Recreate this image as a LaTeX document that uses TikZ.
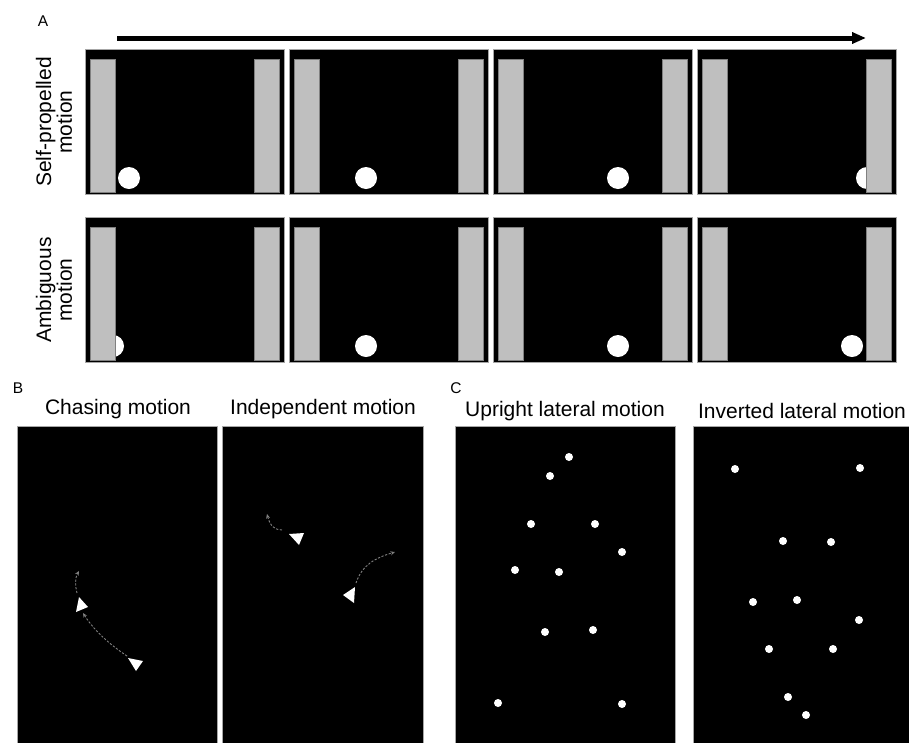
\documentclass[tikz,border=0pt]{standalone}
\usepackage{fontspec}
\setmainfont{Liberation Sans}
\usetikzlibrary{arrows.meta}
\begin{document}
\begin{tikzpicture}[x=1pt,y=-1pt,
  screen/.style={fill=black,draw=gray!70,line width=0.6pt},
  post/.style={fill=gray!50,draw=gray,line width=0.6pt},
  ball/.style={fill=white},
  bdot/.style={fill=white},
  agent/.style={fill=white},
  title/.style={font=\fontsize{21}{24}\selectfont,inner sep=0pt},
  panel/.style={font=\fontsize{15.5}{18}\selectfont,inner sep=0pt},
  rowlab/.style={font=\fontsize{21}{18}\selectfont,inner sep=0pt,rotate=90,align=center},
  trail/.style={draw=gray,dash pattern=on 2.2pt off 1.6pt,line width=0.9pt,-{Stealth[length=4.5pt,width=4pt]}}]
\useasboundingbox (0,0) rectangle (909,742);
\fill[white] (0,0) rectangle (909,742);

% ---------- Panel A ----------
\node[panel] (labA) at (43,21) {A};
\coordinate (arrS) at (117,38);
\coordinate (arrE) at (866,38);
\draw[line width=5pt,-{Triangle[length=14pt,width=11pt]}] (arrS) -- (arrE);

\node[rowlab] (lab1) at (54,122) {Self-propelled\\motion};
\node[rowlab] (lab2) at (54,290) {Ambiguous\\motion};

% row 1
\foreach \L/\bx in {85/129, 289/366, 493/618, 697/867}{
  \draw[screen] (\L,49) rectangle ++(199,145);
  \fill[ball] (\bx,178) circle (11);
  \draw[post] (\L+5,59) rectangle ++(25,133);
  \draw[post] (\L+169,59) rectangle ++(25,133);
}
% row 2
\foreach \L/\bx in {85/113, 289/366, 493/618, 697/852}{
  \draw[screen] (\L,217) rectangle ++(199,145);
  \fill[ball] (\bx,346) circle (11);
  \draw[post] (\L+5,227) rectangle ++(25,133);
  \draw[post] (\L+169,227) rectangle ++(25,133);
}

% ---------- Panel B ----------
\node[panel] (labB) at (18,388) {B};
\node[title] (tB1) at (118,409) {Chasing motion};
\node[title] (tB2) at (323,409) {Independent motion};
\draw[screen] (17,426) rectangle (217,745);
\draw[screen] (222,426) rectangle (423,745);

% chasing
\fill[agent] (79,597) -- (76,612) -- (88,607) -- cycle;
\fill[agent] (128,658) -- (143,661) -- (136,671) -- cycle;
\coordinate (c1s) at (77,593);
\coordinate (c1e) at (79,571);
\draw[trail] (c1s) .. controls (75,585) and (75,578) .. (c1e);
\coordinate (c2s) at (127,656);
\coordinate (c2e) at (83,613);
\draw[trail] (c2s) .. controls (112,646) and (95,632) .. (c2e);

% independent
\fill[agent] (289,534) -- (304,533) -- (299,545) -- cycle;
\fill[agent] (355,587) -- (343,595) -- (354,603) -- cycle;
\coordinate (i1s) at (282,530);
\coordinate (i1e) at (267,514);
\draw[trail] (i1s) .. controls (275,530) and (270,526) .. (i1e);
\coordinate (i2s) at (356,583);
\coordinate (i2e) at (395,552);
\draw[trail] (i2s) .. controls (362,565) and (375,558) .. (i2e);

% ---------- Panel C ----------
\node[panel] (labC) at (456,388) {C};
\node[title] (tC1) at (565,411) {Upright lateral motion};
\node[title] (tC2) at (802,411) {Inverted lateral motion};
\draw[screen] (455,426) rectangle (675,745);
\draw[screen] (693,426) rectangle (912,745);

\foreach \x/\y in {569/457, 550/476, 531/524, 595/524, 622/552, 515/570,
                   559/572, 545/632, 593/630, 498/703, 622/704}{
  \fill[bdot] (\x,\y) circle (4);
}
\foreach \x/\y in {735/469, 860/468, 783/541, 831/542, 753/602, 797/600,
                   859/620, 769/649, 833/649, 788/697, 806/715}{
  \fill[bdot] (\x,\y) circle (4);
}
\end{tikzpicture}
\end{document}
